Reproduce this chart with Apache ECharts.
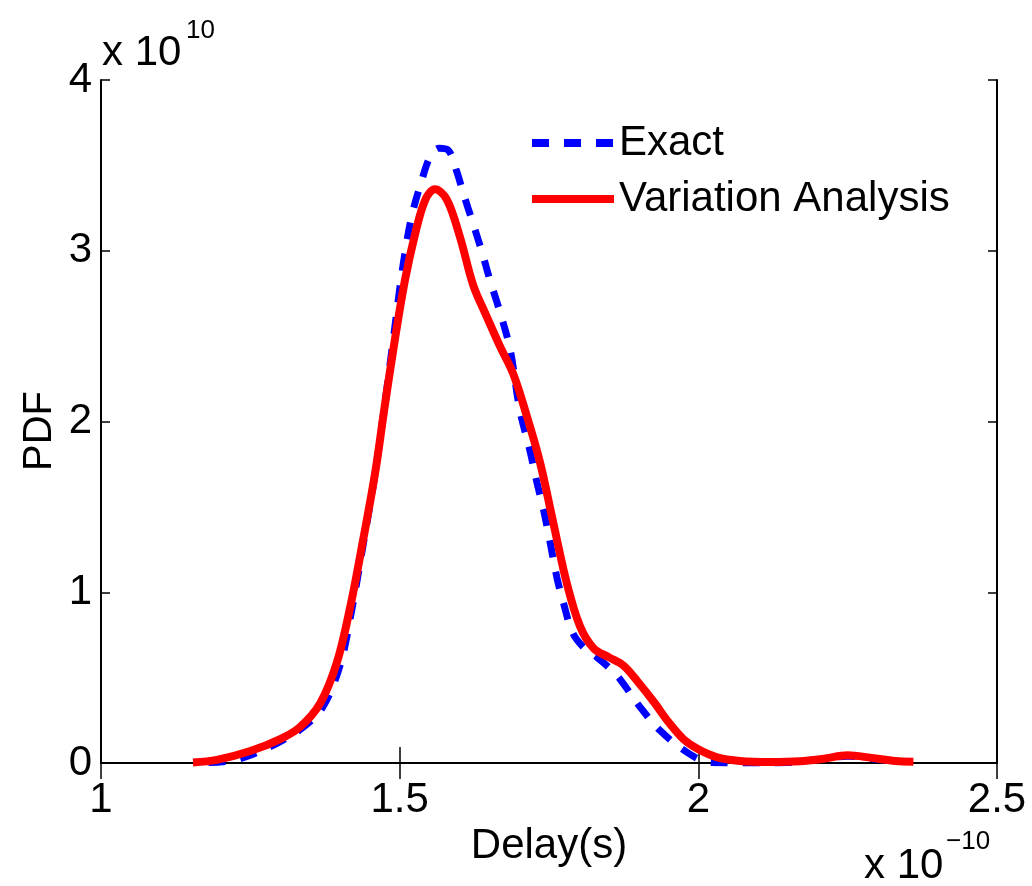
<!DOCTYPE html>
<html>
<head>
<meta charset="utf-8">
<script src="https://cdn.jsdelivr.net/npm/echarts@6/dist/echarts.min.js"></script>
<style>
html,body{margin:0;padding:0;background:#fff;}
#chart{width:1032px;height:886px;}
</style>
</head>
<body>
<div id="chart"></div>
<script>
// Delay (x 1e-10 s) and PDF (x 1e10)
const exactX = [1.18,1.22,1.26,1.30,1.335,1.37,1.40,1.42,1.44,1.46,1.475,1.49,1.505,1.52,1.536,1.551,1.566,1.581,1.595,1.608,1.621,1.638,1.651,1.668,1.685,1.701,1.718,1.73,1.741,1.752,1.763,1.774,1.79,1.81,1.83,1.85,1.869,1.902,1.936,1.98,2.02,2.06,2.10,2.15,2.20,2.25,2.29,2.33];
const exactY = [0.003,0.014,0.06,0.125,0.20,0.32,0.57,0.90,1.30,1.72,2.10,2.50,2.90,3.20,3.40,3.55,3.60,3.59,3.47,3.32,3.18,2.99,2.83,2.64,2.42,2.07,1.83,1.64,1.48,1.29,1.09,0.94,0.76,0.67,0.62,0.56,0.49,0.33,0.19,0.065,0.003,0.0,0.0,0.003,0.02,0.04,0.025,0.01];
const varX = [1.154,1.194,1.25,1.30,1.333,1.367,1.395,1.417,1.439,1.459,1.475,1.492,1.509,1.526,1.543,1.559,1.579,1.601,1.623,1.645,1.668,1.69,1.713,1.735,1.757,1.78,1.802,1.825,1.85,1.875,1.90,1.925,1.95,1.975,2.00,2.03,2.07,2.12,2.17,2.21,2.25,2.29,2.33,2.36];
const varY = [0.003,0.018,0.07,0.14,0.21,0.35,0.59,0.91,1.31,1.70,2.09,2.48,2.83,3.10,3.30,3.36,3.30,3.08,2.80,2.62,2.44,2.28,2.03,1.76,1.41,1.05,0.80,0.67,0.62,0.57,0.47,0.36,0.24,0.14,0.08,0.035,0.012,0.006,0.01,0.025,0.045,0.03,0.012,0.008];
const xTicks = [1, 1.5, 2, 2.5];
const yTicks = [0, 1, 2, 3, 4];
const seriesNames = ['Exact', 'Variation Analysis'];

const FONT = "'Liberation Sans', Arial, sans-serif";
const zip = (xs, ys) => xs.map((x, i) => [x, ys[i]]);

const chart = echarts.init(document.getElementById('chart'), null, {renderer: 'canvas'});
const axisLine = {show: true, lineStyle: {color: '#000', width: 2}};
const option = {
  backgroundColor: '#fff',
  animation: false,
  grid: {left: 101, top: 80, width: 896, height: 683, containLabel: false},
  legend: {
    data: seriesNames,
    orient: 'vertical',
    left: 528,
    top: 122,
    itemWidth: 82,
    itemHeight: 16,
    itemGap: 14,
    itemStyle: {opacity: 0},
    lineStyle: {width: 8},
    textStyle: {fontFamily: FONT, fontSize: 42, color: '#000', lineHeight: 42, padding: [0, 0, 0, 0]},
    padding: 0
  },
  xAxis: [{
    type: 'value', min: xTicks[0], max: xTicks[xTicks.length - 1], interval: 0.5,
    position: 'bottom',
    axisLine: axisLine,
    axisTick: {show: true, inside: true, length: 16, lineStyle: {color: '#000', width: 1.5}},
    axisLabel: {color: '#000', fontFamily: FONT, fontSize: 42, margin: 16,
      formatter: v => String(v)},
    splitLine: {show: false},
    name: 'Delay(s)', nameLocation: 'middle', nameGap: 61,
    nameTextStyle: {color: '#000', fontFamily: FONT, fontSize: 42}
  }, {
    type: 'value', min: xTicks[0], max: xTicks[xTicks.length - 1], interval: 0.5,
    position: 'top',
    axisLine: axisLine,
    axisTick: {show: true, inside: true, length: 16, lineStyle: {color: '#000', width: 1.5}},
    axisLabel: {show: false},
    splitLine: {show: false}
  }],
  yAxis: [{
    type: 'value', min: yTicks[0], max: yTicks[yTicks.length - 1], interval: 1,
    position: 'left',
    axisLine: axisLine,
    axisTick: {show: true, inside: true, length: 9, lineStyle: {color: '#000', width: 1.5}},
    axisLabel: {color: '#000', fontFamily: FONT, fontSize: 42, margin: 9},
    splitLine: {show: false}
  }, {
    type: 'value', min: yTicks[0], max: yTicks[yTicks.length - 1], interval: 1,
    position: 'right',
    axisLine: axisLine,
    axisTick: {show: true, inside: true, length: 9, lineStyle: {color: '#000', width: 1.5}},
    axisLabel: {show: false},
    splitLine: {show: false}
  }],
  series: [{
    name: seriesNames[0], type: 'line', xAxisIndex: 0, yAxisIndex: 0,
    data: zip(exactX, exactY), showSymbol: false, symbol: 'none',
    smooth: 0.35,
    color: '#0000ff',
    lineStyle: {color: '#0000ff', width: 7, type: [17, 15], cap: 'butt'},
    z: 2
  }, {
    name: seriesNames[1], type: 'line', xAxisIndex: 0, yAxisIndex: 0,
    data: zip(varX, varY), showSymbol: false, symbol: 'none',
    smooth: 0.35,
    color: '#ff0000',
    lineStyle: {color: '#ff0000', width: 8, type: 'solid'},
    z: 3
  }],
  graphic: [
    {type: 'text', left: 102, top: 32, style: {text: 'x 10', font: '42px ' + FONT, fill: '#000'}},
    {type: 'text', left: 186, top: 18, style: {text: '10', font: '26px ' + FONT, fill: '#000'}},
    {type: 'text', left: 864, top: 845, style: {text: 'x 10', font: '42px ' + FONT, fill: '#000'}},
    {type: 'text', left: 946, top: 829, style: {text: '\u221210', font: '26px ' + FONT, fill: '#000'}},
    {type: 'text', x: 40, y: 431, rotation: Math.PI / 2,
      style: {text: 'PDF', font: '40px ' + FONT, fill: '#000', align: 'center', verticalAlign: 'middle'}}
  ]
};
chart.setOption(option);
</script>
</body>
</html>
